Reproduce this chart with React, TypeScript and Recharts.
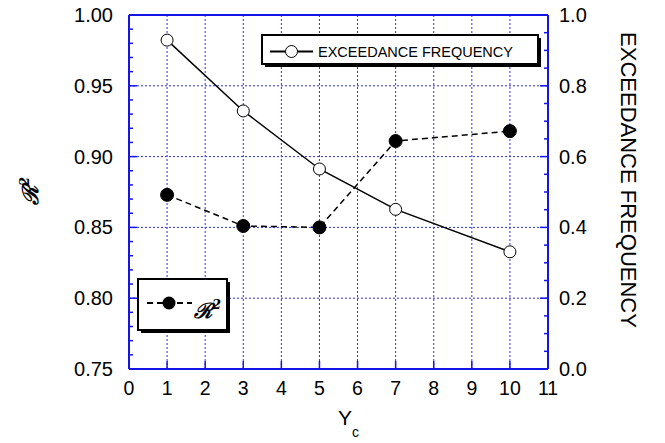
import React from 'react';
import { ComposedChart, Line, XAxis, YAxis, ReferenceLine } from 'recharts';

// ---- data ----
const ycValues = [1, 3, 5, 7, 10];
const r2Values = [0.873, 0.851, 0.85, 0.911, 0.918];
const exceedanceValues = [0.929, 0.729, 0.565, 0.451, 0.331];

const xTicks = [0, 1, 2, 3, 4, 5, 6, 7, 8, 9, 10, 11];
const leftMajorTicks = [0.75, 0.8, 0.85, 0.9, 0.95, 1.0];
const rightMajorTicks = [0.0, 0.2, 0.4, 0.6, 0.8, 1.0];
const verticalGrid = [1, 2, 3, 4, 5, 6, 7, 8, 9, 10];
const horizontalGrid = [0.8, 0.85, 0.9, 0.95];

const leftMinorTicks: number[] = [];
for (let i = 0; i <= 25; i++) leftMinorTicks.push(Number((0.75 + i * 0.01).toFixed(2)));
const rightMinorTicks: number[] = [];
for (let i = 0; i <= 20; i++) rightMinorTicks.push(Number((i * 0.05).toFixed(2)));

const data = ycValues.map((x, i) => ({ x, r2: r2Values[i], ef: exceedanceValues[i] }));

const AXIS = '#1414e6';
const GRID = '#3030e0';
const FONT = '"Liberation Sans", Arial, sans-serif';

const isIn = (arr: number[], v: number) => arr.some((m) => Math.abs(m - v) < 1e-6);

const XTick = (props: any) => {
  const { x, y, payload } = props;
  return (
    <g>
      <line x1={x} x2={x} y1={y} y2={y - 8} stroke={AXIS} strokeWidth={1.5} />
      <text x={x} y={y + 26} textAnchor="middle" fontSize={19.5} fontFamily={FONT} fill="#000">
        {payload.value}
      </text>
    </g>
  );
};

const LeftTick = (props: any) => {
  const { x, y, payload } = props;
  const v = payload.value;
  const major = isIn(leftMajorTicks, v);
  return (
    <g>
      <line x1={x} x2={x + (major ? 8 : 4)} y1={y} y2={y} stroke={AXIS} strokeWidth={1.5} />
      {major && (
        <text x={x - 16} y={y + 7} textAnchor="end" fontSize={20} fontFamily={FONT} fill="#000">
          {v.toFixed(2)}
        </text>
      )}
    </g>
  );
};

const RightTick = (props: any) => {
  const { x, y, payload } = props;
  const v = payload.value;
  const major = isIn(rightMajorTicks, v);
  return (
    <g>
      <line x1={x} x2={x - (major ? 8 : 4)} y1={y} y2={y} stroke={AXIS} strokeWidth={1.5} />
      {major && (
        <text x={x + 11} y={y + 7} textAnchor="start" fontSize={20} fontFamily={FONT} fill="#000">
          {v.toFixed(1)}
        </text>
      )}
    </g>
  );
};

export default function App() {
  return (
    <div style={{ position: 'absolute', left: 0, top: 0, width: 665, height: 443, background: '#fff' }}>
      <ComposedChart
        width={665}
        height={443}
        data={data}
        margin={{ top: 15, right: 57, bottom: 34, left: 69 }}
      >
        <XAxis
          dataKey="x"
          type="number"
          domain={[0, 11]}
          ticks={xTicks}
          interval={0}
          tickLine={false}
          tickSize={0}
          tickMargin={0}
          height={40}
          axisLine={{ stroke: AXIS, strokeWidth: 2 }}
          tick={<XTick />}
          allowDataOverflow
        />
        <YAxis
          yAxisId="left"
          orientation="left"
          type="number"
          domain={[0.75, 1]}
          ticks={leftMinorTicks}
          interval={0}
          tickLine={false}
          tickSize={0}
          tickMargin={0}
          width={60}
          axisLine={{ stroke: AXIS, strokeWidth: 2 }}
          tick={<LeftTick />}
          allowDataOverflow
        />
        <YAxis
          yAxisId="right"
          orientation="right"
          type="number"
          domain={[0, 1]}
          ticks={rightMinorTicks}
          interval={0}
          tickLine={false}
          tickSize={0}
          tickMargin={0}
          width={60}
          axisLine={{ stroke: AXIS, strokeWidth: 2 }}
          tick={<RightTick />}
          allowDataOverflow
        />
        {verticalGrid.map((v) => (
          <ReferenceLine key={'v' + v} x={v} yAxisId="left" stroke={GRID} strokeWidth={1} strokeDasharray="2 2" />
        ))}
        {horizontalGrid.map((v) => (
          <ReferenceLine key={'h' + v} y={v} yAxisId="left" stroke={GRID} strokeWidth={1} strokeDasharray="2 2" />
        ))}
        <ReferenceLine y={1} yAxisId="left" stroke={AXIS} strokeWidth={2} />
        <Line
          yAxisId="right"
          dataKey="ef"
          type="linear"
          stroke="#000"
          strokeWidth={1.5}
          dot={{ r: 6, fill: '#fff', stroke: '#000', strokeWidth: 1 }}
          isAnimationActive={false}
        />
        <Line
          yAxisId="left"
          dataKey="r2"
          type="linear"
          stroke="#000"
          strokeWidth={1.5}
          strokeDasharray="6 4"
          dot={{ r: 6.5, fill: '#000', stroke: '#000', strokeWidth: 1, strokeDasharray: '0' }}
          isAnimationActive={false}
        />
      </ComposedChart>
      <svg
        width={665}
        height={443}
        style={{ position: 'absolute', left: 0, top: 0, pointerEvents: 'none' }}
      >
        {/* Exceedance legend */}
        <rect x={265} y={38} width={276} height={29} fill="#000" />
        <rect x={262} y={35} width={276} height={29} fill="#fff" stroke="#000" strokeWidth={2} />
        <line x1={270} x2={313} y1={51.5} y2={51.5} stroke="#000" strokeWidth={2} />
        <circle cx={291.5} cy={51.5} r={6} fill="#fff" stroke="#000" strokeWidth={1} />
        <text x={318} y={57} fontSize={14.5} fontFamily={FONT} fill="#000">
          EXCEEDANCE FREQUENCY
        </text>
        {/* R2 legend */}
        <rect x={141} y={282} width={89} height={51} fill="#000" />
        <rect x={138} y={279} width={89} height={51} fill="#fff" stroke="#000" strokeWidth={2} />
        <line x1={147} x2={192} y1={303} y2={303} stroke="#000" strokeWidth={2} strokeDasharray="6 4" />
        <circle cx={169} cy={303} r={6.5} fill="#000" />
        <text x={194} y={318} fontSize={21} fontStyle="italic" fontWeight="bold" fontFamily='"DejaVu Serif", serif' fill="#000">
          ℛ<tspan fontSize={13} dy={-9}>2</tspan>
        </text>
        {/* axis labels */}
        <text
          transform="translate(38,191) rotate(-90)"
          textAnchor="middle"
          fontSize={22}
          fontStyle="italic"
          fontWeight="bold"
          fontFamily='"DejaVu Serif", serif'
          fill="#000"
        >
          ℛ<tspan fontSize={13} dy={-9}>2</tspan>
        </text>
        <text
          transform="translate(621,180) rotate(90)"
          textAnchor="middle"
          fontSize={22}
          fontFamily={FONT}
          fill="#000"
        >
          EXCEEDANCE FREQUENCY
        </text>
        <text x={338} y={425} fontSize={21} fontFamily={FONT} fill="#000">
          Y<tspan fontSize={14} dy={12}>c</tspan>
        </text>
      </svg>
    </div>
  );
}
